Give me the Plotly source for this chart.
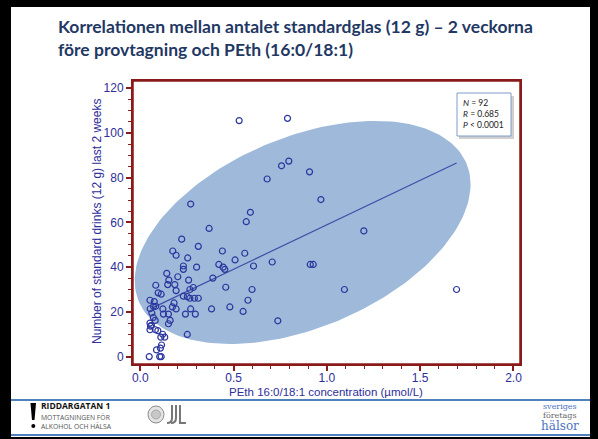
import numpy as np
import plotly.graph_objects as go

# ---------------- data ----------------
peth = [
    0.530, 0.789, 0.757, 0.796, 0.680, 0.907,
    0.270, 0.174, 0.192, 0.222, 0.369, 0.311, 0.254, 0.231, 0.231, 0.302,
    0.201, 0.142, 0.153, 0.259, 0.147, 0.083, 0.185, 0.192, 0.096, 0.112,
    0.266, 0.284, 0.231, 0.252, 0.266, 0.290, 0.311, 0.052, 0.075, 0.181,
    0.071, 0.053, 0.083, 0.121, 0.192, 0.172, 0.270, 0.062, 0.124, 0.151,
    0.242, 0.295, 0.080, 0.160, 0.151, 0.252, 0.389, 0.421, 0.440, 0.444,
    0.453, 0.458, 0.382, 0.480, 0.508, 0.560, 0.568, 0.590, 0.577, 0.551,
    0.599, 0.607, 0.707, 0.737, 0.911, 0.927, 1.094, 0.968,
    1.198, 1.695,
    0.052, 0.081, 0.094, 0.052, 0.055, 0.110, 0.131, 0.114, 0.108, 0.087,
    0.048, 0.104, 0.112, 0.070, 0.120, 0.060,
]
drinks = [
    105.5, 106.5, 85.3, 87.4, 79.4, 82.6,
    68.2, 47.2, 45.3, 52.5, 57.3, 49.3, 44.1, 40.5, 39.0, 40.0,
    35.7, 37.2, 34.2, 34.2, 32.2, 31.9, 32.2, 29.5, 28.5, 27.9,
    30.0, 30.9, 27.0, 26.8, 26.1, 26.1, 26.1, 25.2, 24.6, 24.0,
    22.5, 21.4, 22.5, 21.3, 21.3, 22.2, 21.3, 19.5, 19.0, 19.0,
    19.0, 19.0, 16.2, 16.2, 14.7, 9.9, 35.1, 41.2, 47.2, 40.0,
    39.0, 31.0, 21.3, 22.2, 43.2, 46.2, 60.3, 64.5, 25.2, 20.2,
    30.0, 40.5, 42.3, 16.0, 41.2, 41.2, 30.0, 70.2,
    56.2, 30.0,
    12.0, 12.0, 11.6, 15.0, 13.6, 8.7, 8.7, 5.2, 3.8, 3.0,
    0.0, 0.0, 0.0, 17.5, 10.0, 14.0,
]

x_ticks = [0.0, 0.5, 1.0, 1.5, 2.0]
x_tick_labels = ["0.0", "0.5", "1.0", "1.5", "2.0"]
y_ticks = [0, 20, 40, 60, 80, 100, 120]
y_tick_labels = ["0", "20", "40", "60", "80", "100", "120"]

title_lines = ["Korrelationen mellan antalet standardglas (12 g) \u2013 2 veckorna",
               "f\u00f6re provtagning och PEth (16:0/18:1)"]
x_title = "PEth 16:0/18:1 concentration (\u00b5mol/L)"
y_title = "Number of standard drinks (12 g) last 2 weeks"
stats_lines = ["<i>N</i> = 92", "<i>R</i> = 0.685", "<i>P</i> &lt; 0.0001"]

# confidence-ellipse shape parameters (data units)
ell_cx, ell_cy = 0.87, 55.5
ell_ax, ell_cy_cos, ell_cy_sin = 0.90, 21.5, 45.0

# ---------------- layout geometry ----------------
FIG_W, FIG_H = 598, 439
M_L, M_R, M_T, M_B = 133, 78, 81, 75
PW = FIG_W - M_L - M_R
PH = FIG_H - M_T - M_B


def pxx(px):
    return (px - M_L) / PW


def pxy(py):
    return (FIG_H - M_B - py) / PH


MAROON = "#8b1a1a"
TICKBLUE = "#2e2e9c"
PT_COLOR = "#2b369e"

fig = go.Figure()

# ellipse
t = np.linspace(0, 2 * np.pi, 200)
ex = ell_cx + ell_ax * np.cos(t)
ey = ell_cy + ell_cy_cos * np.cos(t) + ell_cy_sin * np.sin(t)
fig.add_trace(go.Scatter(x=ex, y=ey, mode="lines", fill="toself",
                         fillcolor="#9fb9da", line=dict(width=0),
                         hoverinfo="skip", showlegend=False))

# regression line (least squares from the data)
slope, intercept = np.polyfit(peth, drinks, 1)
lx = np.array([min(peth) + 0.02, max(peth)])
fig.add_trace(go.Scatter(x=lx, y=intercept + slope * lx, mode="lines",
                         line=dict(color="#3d4fa8", width=1.2),
                         hoverinfo="skip", showlegend=False))

# points
fig.add_trace(go.Scatter(x=peth, y=drinks, mode="markers",
                         marker=dict(symbol="circle-open", size=6,
                                     color=PT_COLOR, line=dict(width=1.2)),
                         showlegend=False))

axis_common = dict(
    showgrid=False, zeroline=False, showline=True, linecolor=MAROON,
    linewidth=2, mirror=True, ticks="outside", ticklen=5, tickwidth=1.5,
    tickcolor=MAROON,
    tickfont=dict(family="Liberation Sans, Arial", size=12, color=TICKBLUE),
)

fig.update_xaxes(range=[-0.039, 2.035], tickmode="array", tickvals=x_ticks,
                 ticktext=x_tick_labels, ticklabelstandoff=-3,
                 minor=dict(tickmode="linear", tick0=0, dtick=0.1, ticklen=3,
                            tickcolor=MAROON, tickwidth=1, ticks="outside"),
                 **axis_common)
fig.update_yaxes(range=[-3.3, 123.2], tickmode="array", tickvals=y_ticks,
                 ticktext=y_tick_labels,
                 minor=dict(tickmode="linear", tick0=0, dtick=5, ticklen=3,
                            tickcolor=MAROON, tickwidth=1, ticks="outside"),
                 **axis_common)

shapes = [
    # white slide on black frame
    dict(type="rect", xref="paper", yref="paper", x0=pxx(11), x1=pxx(590),
         y0=pxy(437), y1=pxy(7), fillcolor="white", line=dict(width=0),
         layer="below"),
    # plot frame
    dict(type="rect", xref="paper", yref="paper", x0=0, x1=1, y0=0, y1=1,
         line=dict(color=MAROON, width=1.5), fillcolor="rgba(0,0,0,0)"),
    # blue rules
    dict(type="line", xref="paper", yref="paper", x0=pxx(11), x1=pxx(590),
         y0=pxy(400), y1=pxy(400), line=dict(color="#4f81bd", width=2)),
    dict(type="line", xref="paper", yref="paper", x0=pxx(11), x1=pxx(590),
         y0=pxy(435), y1=pxy(435), line=dict(color="#4f81bd", width=2)),
    # stats box shadow + box
    dict(type="rect", xref="paper", yref="paper", x0=pxx(459), x1=pxx(514),
         y0=pxy(139), y1=pxy(96), fillcolor="rgba(120,120,120,0.35)",
         line=dict(width=0)),
    dict(type="rect", xref="paper", yref="paper", x0=pxx(457), x1=pxx(511),
         y0=pxy(136), y1=pxy(93), fillcolor="white",
         line=dict(color="#7f9cc6", width=1)),
    # exclamation logo
    dict(type="path", xref="paper", yref="paper",
         path="M {:.4f},{:.4f} L {:.4f},{:.4f} L {:.4f},{:.4f} L {:.4f},{:.4f} Z".format(
             pxx(30.5), pxy(403), pxx(36), pxy(403), pxx(34.5), pxy(420), pxx(32), pxy(420)),
         fillcolor="black", line=dict(width=0)),
    dict(type="circle", xref="paper", yref="paper", x0=pxx(31.3), x1=pxx(35.3),
         y0=pxy(428), y1=pxy(424), fillcolor="black", line=dict(width=0)),
    # seal logo
    dict(type="circle", xref="paper", yref="paper", x0=pxx(148), x1=pxx(164),
         y0=pxy(423), y1=pxy(406), fillcolor="#e4e4e4",
         line=dict(color="#8a8a8a", width=1)),
    dict(type="circle", xref="paper", yref="paper", x0=pxx(151.5), x1=pxx(160.5),
         y0=pxy(419), y1=pxy(410), fillcolor="#c8c8c8",
         line=dict(color="#9a9a9a", width=0.8)),
    # JL logo
    dict(type="path", xref="paper", yref="paper",
         path="M {:.4f},{:.4f} L {:.4f},{:.4f} Q {:.4f},{:.4f} {:.4f},{:.4f}".format(
             pxx(172), pxy(405), pxx(172), pxy(418), pxx(172), pxy(423), pxx(167), pxy(423)),
         line=dict(color="#777777", width=2)),
    dict(type="path", xref="paper", yref="paper",
         path="M {:.4f},{:.4f} L {:.4f},{:.4f} Q {:.4f},{:.4f} {:.4f},{:.4f}".format(
             pxx(176), pxy(405), pxx(176), pxy(418), pxx(176), pxy(423), pxx(171), pxy(423)),
         line=dict(color="#777777", width=2)),
    dict(type="path", xref="paper", yref="paper",
         path="M {:.4f},{:.4f} L {:.4f},{:.4f} L {:.4f},{:.4f}".format(
             pxx(180), pxy(405), pxx(180), pxy(423), pxx(186), pxy(423)),
         line=dict(color="#777777", width=2)),
]

annotations = [
    dict(text="<b>" + "<br>".join(title_lines) + "</b>", xref="paper", yref="paper",
         x=pxx(56), y=pxy(14), xanchor="left", yanchor="top", align="left",
         showarrow=False, font=dict(family="Lato", size=17.5, color="#1f3864")),
    dict(text="<br>".join(stats_lines), xref="paper", yref="paper",
         x=pxx(461), y=pxy(96), xanchor="left", yanchor="top", align="left",
         showarrow=False, font=dict(family="Lato", size=8.5, color="#222222")),
    dict(text=x_title, xref="paper", yref="paper", x=pxx(326), y=pxy(392),
         xanchor="center", yanchor="middle", showarrow=False,
         font=dict(family="Liberation Sans, Arial", size=11.5, color=TICKBLUE)),
    dict(text=y_title, xref="paper", yref="paper", x=pxx(97), y=pxy(222),
         xanchor="center", yanchor="middle", textangle=-90, showarrow=False,
         font=dict(family="Liberation Sans, Arial", size=12, color=TICKBLUE)),
    dict(text="<b>RIDDARGATAN 1</b>", xref="paper", yref="paper", x=pxx(39), y=pxy(405.5),
         xanchor="left", yanchor="middle", showarrow=False,
         font=dict(family="Open Sans", size=8.5, color="#111111")),
    dict(text="MOTTAGNINGEN F\u00d6R", xref="paper", yref="paper", x=pxx(39), y=pxy(417),
         xanchor="left", yanchor="middle", showarrow=False,
         font=dict(family="Open Sans", size=6.8, color="#555555")),
    dict(text="ALKOHOL OCH H\u00c4LSA", xref="paper", yref="paper", x=pxx(39), y=pxy(426.5),
         xanchor="left", yanchor="middle", showarrow=False,
         font=dict(family="Open Sans", size=6.8, color="#555555")),
    dict(text="sveriges", xref="paper", yref="paper", x=pxx(560), y=pxy(406),
         xanchor="center", yanchor="middle", showarrow=False,
         font=dict(family="DejaVu Serif", size=8, color="#4a6fbf")),
    dict(text="f\u00f6retags", xref="paper", yref="paper", x=pxx(560), y=pxy(415),
         xanchor="center", yanchor="middle", showarrow=False,
         font=dict(family="DejaVu Serif", size=8, color="#666666")),
    dict(text="h\u00e4lsor", xref="paper", yref="paper", x=pxx(560), y=pxy(426),
         xanchor="center", yanchor="middle", showarrow=False,
         font=dict(family="DejaVu Serif", size=12, color="#4a74c4")),
]

fig.update_layout(
    width=FIG_W, height=FIG_H, autosize=False,
    margin=dict(l=M_L, r=M_R, t=M_T, b=M_B, pad=0),
    paper_bgcolor="black", plot_bgcolor="white",
    shapes=shapes, annotations=annotations, showlegend=False,
)

fig.write_html("out.html", config={"displayModeBar": False},
               post_script="document.body.style.margin='0';")
